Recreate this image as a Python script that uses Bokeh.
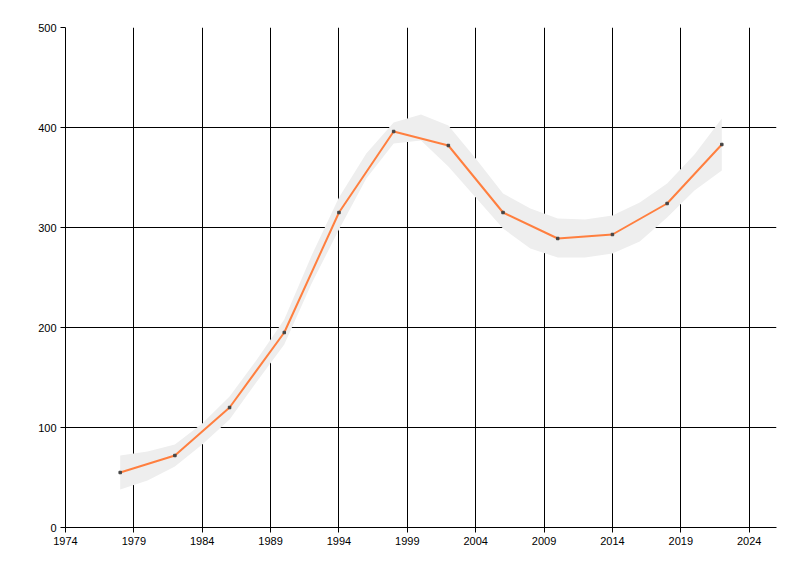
from bokeh.plotting import figure
from bokeh.models import ColumnDataSource, FixedTicker, Range1d
from bokeh.embed import file_html
from bokeh.resources import INLINE

# data points
years = [1978, 1982, 1986, 1990, 1994, 1998, 2002, 2006, 2010, 2014, 2018, 2022]
values = [55, 72, 120, 195, 315, 396, 382, 315, 289, 293, 324, 383]

# confidence band, read every two years
band_years = [1978, 1980, 1982, 1984, 1986, 1988, 1990, 1992, 1994, 1996, 1998, 2000,
              2002, 2004, 2006, 2008, 2010, 2012, 2014, 2016, 2018, 2020, 2022]
band_lower = [38, 47, 61, 83, 108, 146, 183, 244, 298, 349, 384, 387,
              361, 330, 299, 279, 270, 270, 274, 286, 310, 337, 357]
band_upper = [72, 76, 83, 104, 131, 168, 208, 272, 330, 374, 405, 413,
              402, 369, 334, 319, 309, 308, 312, 325, 344, 373, 409]

x_ticks = [1974, 1979, 1984, 1989, 1994, 1999, 2004, 2009, 2014, 2019, 2024]
y_ticks = [0, 100, 200, 300, 400, 500]

src = ColumnDataSource(data=dict(x=years, y=values))
band_src = ColumnDataSource(data=dict(x=band_years, lo=band_lower, hi=band_upper))

p = figure(width=792, height=568, output_backend="svg", toolbar_location=None,
           x_range=Range1d(1974, 2026), y_range=Range1d(0, 500),
           min_border_left=65, min_border_top=27, min_border_right=16, min_border_bottom=41)
p.outline_line_color = None
p.background_fill_color = "white"
p.border_fill_color = "white"

p.varea(x="x", y1="lo", y2="hi", source=band_src, fill_color="#EEEEEE", fill_alpha=1.0)
p.line(x="x", y="y", source=src, line_color="#FF7F3F", line_width=2)
p.scatter(x="x", y="y", source=src, marker="square", size=2.5, color="#444444")

p.xaxis.ticker = FixedTicker(ticks=x_ticks)
p.yaxis.ticker = FixedTicker(ticks=y_ticks)
for ax in (p.xaxis[0], p.yaxis[0]):
    ax.axis_line_color = "black"
    ax.axis_line_width = 1
    ax.major_tick_line_color = "black"
    ax.major_tick_out = 5
    ax.major_tick_in = 0
    ax.minor_tick_line_color = None
    ax.major_label_text_font = "Liberation Sans"
    ax.major_label_text_font_size = "11px"
    ax.major_label_text_color = "black"
    ax.major_label_standoff = 4

p.xgrid.ticker = FixedTicker(ticks=x_ticks)
p.ygrid.ticker = FixedTicker(ticks=y_ticks)
p.grid.grid_line_color = "black"
p.grid.grid_line_alpha = 1.0
p.grid.grid_line_width = 1

open("out.html", "w").write(file_html(p, INLINE))
